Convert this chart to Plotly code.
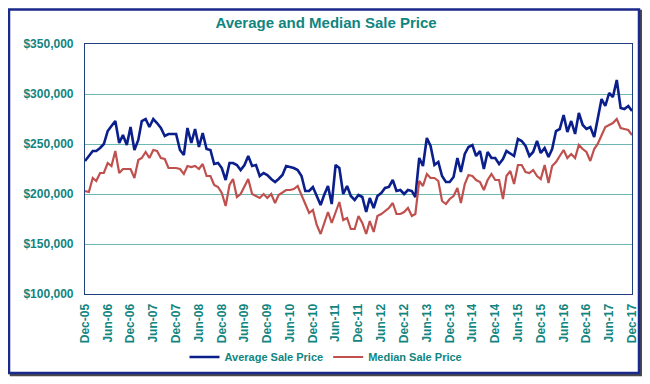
import pandas as pd
import plotly.graph_objects as go

# Monthly values, Dec-05 .. Dec-17 (in $ thousands)
average_price_k = [
    233, 238, 243, 243, 246, 250, 263, 268, 273, 251, 259, 249, 267, 244, 254, 273, 275, 267, 275, 271,
    266, 258, 260, 260, 260, 244, 239, 266, 251, 265, 247, 261, 245, 244, 230, 231, 226, 214, 231, 231,
    229, 224, 229, 238, 228, 229, 218, 221, 219, 215, 212, 215, 219, 228, 227, 226, 224, 218, 203, 203,
    207, 198, 189, 199, 208, 190, 229, 226, 200, 208, 198, 194, 199, 197, 182, 196, 186, 198, 201, 206,
    207, 214, 203, 204, 200, 204, 203, 197, 236, 228, 256, 248, 229, 232, 218, 212, 212, 217, 236, 222,
    240, 247, 249, 238, 243, 225, 242, 236, 236, 230, 235, 243, 240, 238, 255, 253, 248, 238, 242, 253,
    241, 246, 237, 245, 263, 265, 279, 262, 273, 260, 281, 269, 265, 267, 257, 274, 295, 288, 301, 297,
    314, 286, 285, 288, 283,
]
median_price_k = [
    203, 202, 216, 213, 221, 221, 231, 228, 243, 221, 225, 225, 225, 216, 234, 236, 242, 236, 244, 243,
    236, 235, 226, 226, 226, 225, 220, 228, 227, 228, 225, 230, 218, 218, 209, 207, 201, 188, 209, 215,
    197, 200, 208, 215, 200, 198, 196, 200, 196, 200, 191, 199, 202, 204, 204, 205, 208, 199, 191, 181,
    184, 169, 160, 171, 182, 171, 182, 192, 174, 176, 165, 165, 178, 171, 160, 173, 162, 178, 180, 183,
    186, 191, 180, 180, 182, 186, 178, 180, 213, 208, 220, 216, 216, 213, 193, 190, 195, 198, 206, 191,
    210, 219, 218, 214, 212, 204, 214, 220, 214, 214, 195, 218, 223, 210, 229, 229, 222, 221, 224, 218,
    215, 229, 211, 228, 232, 238, 244, 236, 240, 236, 249, 245, 242, 233, 245, 250, 258, 267, 269, 271,
    275, 266, 265, 264, 259,
]
months = pd.date_range("2005-12-01", periods=len(average_price_k), freq="MS")

tick_labels = [
    "Dec-05", "Jun-06", "Dec-06", "Jun-07", "Dec-07", "Jun-08", "Dec-08", "Jun-09", "Dec-09",
    "Jun-10", "Dec-10", "Jun-11", "Dec-11", "Jun-12", "Dec-12", "Jun-13", "Dec-13", "Jun-14",
    "Dec-14", "Jun-15", "Dec-15", "Jun-16", "Dec-16", "Jun-17", "Dec-17",
]
tick_positions = months[::6]

series_names = ["Average Sale Price", "Median Sale Price"]
series_colors = ["#0B1F8C", "#C0504D"]

TEAL = "#11857F"
OFF = 8  # page body margin
W, H = 650 - OFF, 384 - OFF
L, R, T, B = 85 - OFF, 632 - OFF, 44 - OFF, 294 - OFF
pw, ph = R - L, B - T


def px_x(x_ref):
    return (x_ref - OFF - L) / pw


def px_y(y_ref):
    return (B - (y_ref - OFF)) / ph


fig = go.Figure()
fig.add_trace(go.Scatter(
    x=months, y=[v * 1000 for v in average_price_k], mode="lines", name=series_names[0],
    line=dict(color=series_colors[0], width=2.6),
))
fig.add_trace(go.Scatter(
    x=months, y=[v * 1000 for v in median_price_k], mode="lines", name=series_names[1],
    line=dict(color=series_colors[1], width=2.2),
))

# outer chart frame with shadow
fig.add_shape(type="rect", xref="paper", yref="paper",
              x0=px_x(11), x1=px_x(641), y0=px_y(375), y1=px_y(11),
              line=dict(color="#4A4A4A", width=2.5), layer="below")
fig.add_shape(type="rect", xref="paper", yref="paper",
              x0=px_x(9), x1=px_x(639), y0=px_y(373), y1=px_y(9.5),
              line=dict(color="#1A2A8C", width=2.5), fillcolor="white", layer="below")

fig.update_layout(
    width=W, height=H,
    margin=dict(l=L, r=W - R, t=T, b=H - B),
    paper_bgcolor="white", plot_bgcolor="rgba(0,0,0,0)",
    title=dict(text="Average and Median Sale Price", x=(326 - OFF) / W, xref="container",
               xanchor="center", y=1 - (23 - OFF) / H, yanchor="middle", yref="container",
               font=dict(family="Liberation Sans, Arial, sans-serif", size=15, color=TEAL, weight="bold")),
    font=dict(family="Liberation Sans, Arial, sans-serif", color=TEAL),
    showlegend=True,
    legend=dict(orientation="h", x=px_x(326), xanchor="center", y=px_y(357), yanchor="middle",
                font=dict(size=11, color=TEAL, weight="bold"), itemwidth=30,
                bgcolor="rgba(0,0,0,0)"),
)
fig.update_xaxes(
    type="date", range=[months[0], months[-1]],
    tickvals=tick_positions, ticktext=tick_labels, tickangle=-90,
    tickfont=dict(size=12, color=TEAL, weight="bold"),
    showgrid=False, showline=True, linecolor="#1F3F7F", linewidth=1.2, mirror=True,
    ticks="", ticklabelstandoff=4, zeroline=False,
)
fig.update_yaxes(
    range=[100000, 350000], dtick=50000, tickformat="$,.0f",
    tickfont=dict(size=12, color=TEAL, weight="bold"),
    showgrid=True, gridcolor="#6FB7B3", gridwidth=1,
    showline=True, linecolor="#1F3F7F", linewidth=1.2, mirror=True,
    ticks="", ticklabelstandoff=8, zeroline=False,
)

fig.write_html("out.html")
